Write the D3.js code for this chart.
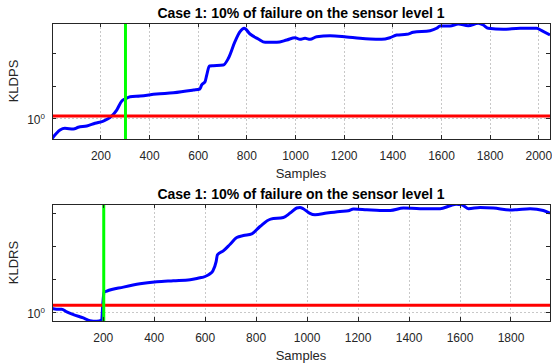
<!DOCTYPE html>
<html lang="en">
<head>
<meta charset="UTF-8">
<script src="https://cdn.jsdelivr.net/npm/d3@7"></script>
<style>
body { margin: 0; background: #fff; font-family: "Liberation Sans", Arial, sans-serif; }
.axis path, .axis line { stroke: #262626; shape-rendering: crispEdges; }
.axis text { fill: #262626; font-size: 12px; font-family: "Liberation Sans", Arial, sans-serif; }
.grid line { stroke: #c8c8c8; stroke-dasharray: 1.5, 2.5; shape-rendering: crispEdges; }
.title { font-size: 14px; font-weight: bold; fill: #000; }
.label { font-size: 13px; fill: #262626; }
</style>
</head>
<body>
<div id="chart"></div>
<script>
// KLDPS (top panel)
const kldpsSamples = [2, 34, 54, 89, 109, 144, 178, 212, 239, 267, 288, 301, 322, 363, 431, 500, 582, 609, 616, 630, 637, 648, 664, 705, 726, 753, 774, 791, 815, 849, 877, 925, 966, 1000, 1020, 1041, 1062, 1089, 1144, 1212, 1267, 1308, 1356, 1390, 1418, 1459, 1486, 1555, 1582, 1596, 1637, 1671, 1712, 1753, 1774, 1794, 1856, 1925, 1993, 2014, 2048];
const kldpsValues = [0.655, 0.781, 0.810, 0.798, 0.827, 0.850, 0.900, 0.944, 1.013, 1.191, 1.441, 1.503, 1.578, 1.602, 1.671, 1.718, 1.818, 1.857, 2.021, 2.167, 2.496, 3.019, 3.038, 3.083, 3.552, 5.044, 6.232, 6.695, 5.934, 5.340, 4.981, 4.981, 5.229, 5.489, 5.306, 5.419, 5.306, 5.607, 5.727, 5.572, 5.419, 5.340, 5.306, 5.489, 5.810, 5.897, 6.152, 6.364, 6.695, 7.028, 7.028, 7.331, 7.073, 7.441, 7.178, 6.695, 6.555, 6.695, 6.695, 6.364, 5.810];

// KLDRS (bottom panel)
const kldrsSamples = [2, 19, 39, 59, 85, 124, 150, 176, 196, 200, 205, 216, 281, 346, 412, 477, 543, 582, 595, 608, 621, 632, 645, 650, 673, 700, 726, 752, 785, 817, 859, 909, 935, 961, 974, 987, 1011, 1033, 1079, 1131, 1164, 1184, 1236, 1288, 1328, 1380, 1445, 1524, 1563, 1587, 1609, 1635, 1681, 1733, 1799, 1825, 1877, 1929, 1955];
const kldrsValues = [1.075, 1.059, 1.059, 1.000, 0.946, 0.881, 0.833, 0.821, 0.839, 1.153, 1.509, 1.551, 1.688, 1.811, 1.889, 1.930, 1.971, 2.057, 2.087, 2.145, 2.238, 2.371, 2.887, 3.327, 3.623, 4.175, 4.801, 5.010, 5.194, 6.063, 7.093, 7.338, 8.055, 8.959, 9.073, 8.826, 8.055, 7.770, 8.055, 8.332, 8.457, 8.769, 8.641, 8.511, 8.511, 8.959, 8.826, 8.826, 9.404, 9.72, 9.605, 8.826, 9.073, 8.959, 8.585, 8.641, 8.826, 8.511, 8.055];

const titles = ["Case 1: 10% of failure on the sensor level 1", "Case 1: 10% of failure on the sensor level 1"];
const yLabels = ["KLDPS", "KLDRS"];
const thresholds = [1.05, 1.15];
const faultSamples = [303, 204];
const xTicksTop = [200, 400, 600, 800, 1000, 1200, 1400, 1600, 1800, 2000];
const xTicksBottom = [200, 400, 600, 800, 1000, 1200, 1400, 1600, 1800];
const yTicksTop = [1, 2, 4];
const yTicksBottom = [1, 2, 4, 8];

const W = 552, H = 363;
const svg = d3.select("#chart").append("svg").attr("width", W).attr("height", H);

function panel(cfg) {
    const x = d3.scaleLinear().domain(cfg.xDomain).range([52, 550]);
    const y = d3.scaleLog().domain(cfg.yDomain).range([cfg.bottom, cfg.top]);
    const g = svg.append("g");

    // grid
    g.append("g").attr("class", "grid").selectAll("line").data(cfg.xTicks).enter().append("line")
        .attr("x1", d => Math.round(x(d)) + 0.5).attr("x2", d => Math.round(x(d)) + 0.5)
        .attr("y1", cfg.top).attr("y2", cfg.bottom);
    g.append("g").attr("class", "grid").selectAll("line").data([1]).enter().append("line")
        .attr("x1", 52).attr("x2", 550)
        .attr("y1", d => Math.round(y(d)) + 0.5).attr("y2", d => Math.round(y(d)) + 0.5);

    const clipId = "clip" + cfg.id;
    g.append("clipPath").attr("id", clipId).append("rect")
        .attr("x", 52).attr("y", cfg.top).attr("width", 498).attr("height", cfg.bottom - cfg.top);
    const plot = g.append("g").attr("clip-path", `url(#${clipId})`);

    const pts = cfg.samples.map((s, i) => [s, cfg.values[i]]);
    plot.append("path").datum(pts)
        .attr("fill", "none").attr("stroke", "#0000ff").attr("stroke-width", 3)
        .attr("stroke-linejoin", "round")
        .attr("d", d3.line().x(d => x(d[0])).y(d => y(d[1])).curve(d3.curveMonotoneX));

    plot.append("line")
        .attr("x1", x(cfg.xDomain[0])).attr("x2", x(cfg.xDomain[1]))
        .attr("y1", y(cfg.threshold)).attr("y2", y(cfg.threshold))
        .attr("stroke", "#ff0000").attr("stroke-width", 3);

    plot.append("line")
        .attr("x1", x(cfg.fault)).attr("x2", x(cfg.fault))
        .attr("y1", cfg.top).attr("y2", cfg.bottom)
        .attr("stroke", "#00ff00").attr("stroke-width", 3);

    // axes
    const ax = g.append("g").attr("class", "axis").attr("transform", `translate(0,${cfg.bottom})`)
        .call(d3.axisBottom(x).tickValues(cfg.xTicks).tickFormat(d3.format("d"))
            .tickSize(-4).tickPadding(12).tickSizeOuter(0));
    ax.select(".domain").remove();
    g.append("g").attr("class", "axis").attr("transform", `translate(0,${cfg.top})`)
        .call(d3.axisTop(x).tickValues(cfg.xTicks).tickSize(-4).tickFormat("").tickSizeOuter(0))
        .select(".domain").remove();

    const ay = g.append("g").attr("class", "axis").attr("transform", "translate(52,0)")
        .call(d3.axisLeft(y).tickValues(cfg.yTicks).tickSize(-4).tickFormat("").tickSizeOuter(0));
    ay.select(".domain").remove();
    g.append("g").attr("class", "axis").attr("transform", "translate(550,0)")
        .call(d3.axisRight(y).tickValues(cfg.yTicks).tickSize(-4).tickFormat("").tickSizeOuter(0))
        .select(".domain").remove();

    const lab = g.append("text")
        .attr("x", 45).attr("y", y(1) + 6).attr("text-anchor", "end")
        .style("font-size", "12px").style("fill", "#262626");
    lab.append("tspan").text("10");
    lab.append("tspan").attr("dy", -5).style("font-size", "8px").text("0");

    g.append("rect").attr("x", 52.5).attr("y", cfg.top + 0.5)
        .attr("width", 498).attr("height", cfg.bottom - cfg.top)
        .attr("fill", "none").attr("stroke", "#262626").attr("stroke-width", 1);

    g.append("text").attr("class", "title").attr("x", 301).attr("y", cfg.top - 5.5)
        .attr("text-anchor", "middle").text(cfg.title);
    g.append("text").attr("class", "label").attr("x", 301).attr("y", cfg.bottom + 39)
        .attr("text-anchor", "middle").text("Samples");
    g.append("text").attr("class", "label")
        .attr("transform", `translate(18,${(cfg.top + cfg.bottom) / 2}) rotate(-90)`)
        .attr("text-anchor", "middle").text(cfg.yLabel);
}

panel({ id: 0, xDomain: [1, 2048], yDomain: [0.646, 7.49], top: 23, bottom: 139,
    samples: kldpsSamples, values: kldpsValues, xTicks: xTicksTop, yTicks: yTicksTop,
    threshold: thresholds[0], fault: faultSamples[0], title: titles[0], yLabel: yLabels[0] });
panel({ id: 1, xDomain: [1, 1955], yDomain: [0.826, 9.75], top: 204, bottom: 321,
    samples: kldrsSamples, values: kldrsValues, xTicks: xTicksBottom, yTicks: yTicksBottom,
    threshold: thresholds[1], fault: faultSamples[1], title: titles[1], yLabel: yLabels[1] });
</script>
</body>
</html>
